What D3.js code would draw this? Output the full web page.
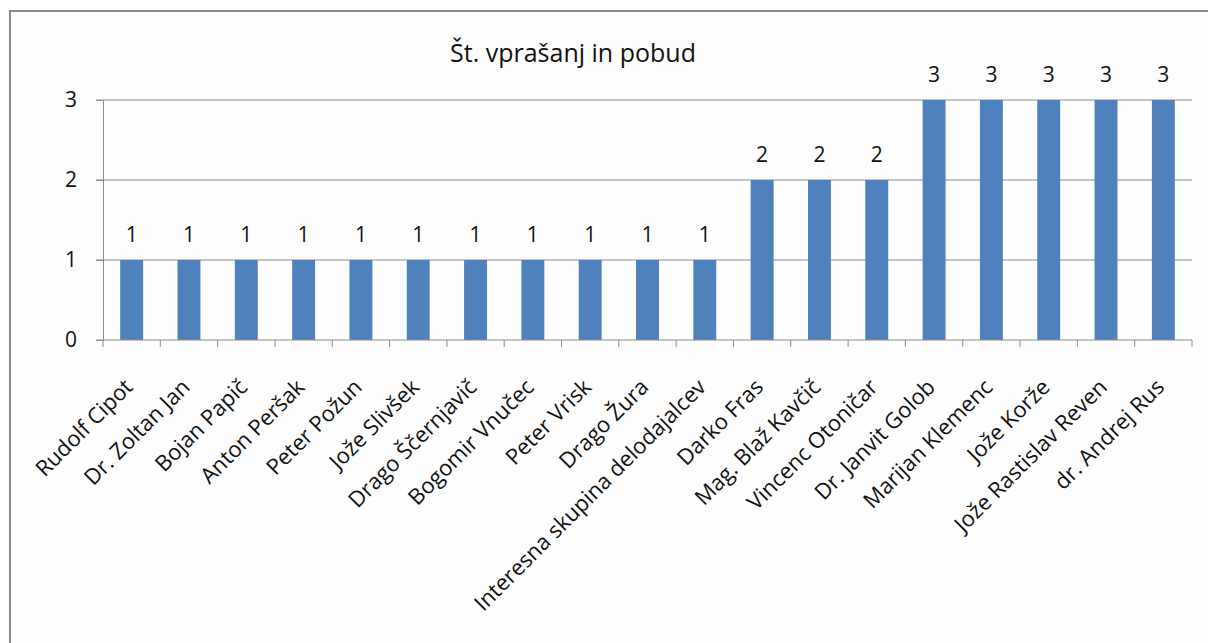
<!DOCTYPE html>
<html>
<head>
<meta charset="utf-8">
<script src="https://cdn.jsdelivr.net/npm/d3@7.9.0/dist/d3.min.js"></script>
<style>
  body { margin: 0; background: #fff; }
  svg text { font-family: "Open Sans", "Noto Sans", sans-serif; fill: #111; }
</style>
</head>
<body>
<svg id="chart" width="1208" height="643"></svg>
<script>
const names = [
  'Rudolf Cipot', 'Dr. Zoltan Jan', 'Bojan Papič', 'Anton Peršak', 'Peter Požun',
  'Jože Slivšek', 'Drago Ščernjavič', 'Bogomir Vnučec', 'Peter Vrisk', 'Drago Žura',
  'Interesna skupina delodajalcev', 'Darko Fras', 'Mag. Blaž Kavčič', 'Vincenc Otoničar',
  'Dr. Janvit Golob', 'Marijan Klemenc', 'Jože Korže', 'Jože Rastislav Reven', 'dr. Andrej Rus'
];
const counts = [1, 1, 1, 1, 1, 1, 1, 1, 1, 1, 1, 2, 2, 2, 3, 3, 3, 3, 3];
const yTicks = [0, 1, 2, 3];
const title = 'Št. vprašanj in pobud';

const svg = d3.select('#chart');

// chart frame
svg.append('rect')
  .attr('x', 10).attr('y', 11)
  .attr('width', 1210).attr('height', 650)
  .attr('fill', '#fdfdfd')
  .attr('stroke', '#8a8a8a')
  .attr('stroke-width', 2);

const plotLeft = 103, plotRight = 1192, plotTop = 100, plotBottom = 340;

const x = d3.scaleBand().domain(names).range([plotLeft, plotRight]).paddingInner(0.6).paddingOuter(0.3);
const xEdge = d3.scaleLinear().domain([0, names.length]).range([plotLeft, plotRight]);
const y = d3.scaleLinear().domain([0, 3]).range([plotBottom, plotTop]);

// gridlines
svg.append('g').selectAll('line')
  .data(yTicks.slice(1))
  .join('line')
  .attr('x1', plotLeft - 7).attr('x2', plotRight)
  .attr('y1', d => y(d)).attr('y2', d => y(d))
  .attr('stroke', '#8c8c8c').attr('stroke-width', 1);

// y axis
const yAxis = svg.append('g')
  .attr('transform', `translate(${plotLeft},0)`)
  .call(d3.axisLeft(y).tickValues(yTicks).tickSize(7).tickPadding(19).tickFormat(d3.format('d')));
yAxis.selectAll('path, line').attr('stroke', '#8c8c8c');
yAxis.selectAll('text').attr('font-size', 21).style('font-family', '"Open Sans", sans-serif').attr('fill', '#111');

// bars
svg.append('g').selectAll('rect')
  .data(counts)
  .join('rect')
  .attr('x', (d, i) => x(names[i]))
  .attr('width', x.bandwidth())
  .attr('y', d => y(d))
  .attr('height', d => y(0) - y(d))
  .attr('fill', '#4f81bd');

// x axis baseline + ticks at category boundaries
const xAx = svg.append('g');
xAx.append('line')
  .attr('x1', plotLeft - 7).attr('x2', plotRight)
  .attr('y1', plotBottom).attr('y2', plotBottom)
  .attr('stroke', '#8c8c8c');
xAx.selectAll('line.tk')
  .data(d3.range(names.length + 1))
  .join('line')
  .attr('class', 'tk')
  .attr('x1', d => xEdge(d)).attr('x2', d => xEdge(d))
  .attr('y1', plotBottom).attr('y2', plotBottom + 7)
  .attr('stroke', '#8c8c8c');

// data labels
svg.append('g').selectAll('text')
  .data(counts)
  .join('text')
  .attr('x', (d, i) => x(names[i]) + x.bandwidth() / 2)
  .attr('y', d => y(d) - 18)
  .attr('text-anchor', 'middle')
  .attr('font-size', 21)
  .text(d => d);

// category labels
svg.append('g').selectAll('text')
  .data(names)
  .join('text')
  .attr('transform', d => `translate(${x(d) + x.bandwidth() / 2 - 3},${plotBottom + 43}) rotate(-45)`)
  .attr('text-anchor', 'end')
  .attr('dy', '0.35em')
  .attr('font-size', 22)
  .text(d => d);

// title
svg.append('text')
  .attr('x', 573).attr('y', 62)
  .attr('text-anchor', 'middle')
  .attr('font-size', 25)
  .text(title);
</script>
</body>
</html>
